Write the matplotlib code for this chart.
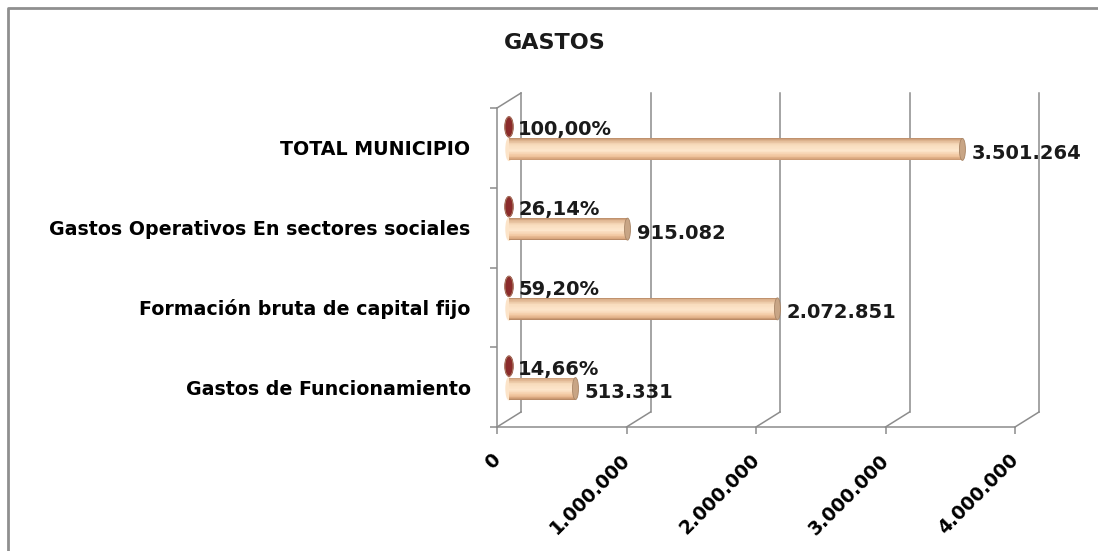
import numpy as np
import matplotlib
matplotlib.use('Agg')
import matplotlib.pyplot as plt
from matplotlib.patches import Ellipse
from matplotlib.lines import Line2D
from matplotlib.colors import to_rgb
from matplotlib.transforms import ScaledTranslation

# data
categorias = ['Gastos de Funcionamiento',
              'Formación bruta de capital fijo',
              'Gastos Operativos En sectores sociales',
              'TOTAL MUNICIPIO']
valores = [513331, 2072851, 915082, 3501264]
porcentajes = [14.66, 59.20, 26.14, 100.00]
etiquetas_valor = ['513.331', '2.072.851', '915.082', '3.501.264']
etiquetas_pct = ['14,66%', '59,20%', '26,14%', '100,00%']
xticks = [0, 1000000, 2000000, 3000000, 4000000]
xtick_labels = ['0', '1.000.000', '2.000.000', '3.000.000', '4.000.000']

W, H = 1098, 551
plt.rcParams['font.family'] = ['DejaVu Sans']

fig = plt.figure(figsize=(W / 100, H / 100), dpi=100)
fig.patch.set_facecolor('white')

ax_px = (497, 108, 1015, 427)   # left, top, right, bottom of front plane in pixels
ax = fig.add_axes([ax_px[0] / W, (H - ax_px[3]) / H,
                   (ax_px[2] - ax_px[0]) / W, (ax_px[3] - ax_px[1]) / H])
ax.set_xlim(0, 4000000)
ax.set_ylim(-0.5, 3.5)
ax.set_facecolor('none')
for s in ax.spines.values():
    s.set_visible(False)

PX = 4000000 / (ax_px[2] - ax_px[0])   # data units per pixel (x)
PY = 4.0 / (ax_px[3] - ax_px[1])       # data units per pixel (y)

grid_c = '#8c8c8c'
dxb, dyb = 24 * PX, 15 * PY   # depth of the back wall
dxm = 12 * PX                 # bars sit mid-depth

# walls / grid
kw = dict(color=grid_c, lw=1.1, clip_on=False, zorder=1)
ax.plot([0, 4000000], [-0.5, -0.5], **kw)
ax.plot([0, 0], [-0.5, 3.5], **kw)
ax.plot([dxb, dxb], [-0.5 + dyb, 3.5 + dyb], **kw)
ax.plot([0, dxb], [3.5, 3.5 + dyb], **kw)
for v in xticks:
    ax.plot([v, v + dxb], [-0.5, -0.5 + dyb], **kw)
    if v > 0:
        ax.plot([v + dxb, v + dxb], [-0.5 + dyb, 3.5 + dyb], **kw)

# ticks
ax.set_xticks(xticks)
ax.set_xticklabels(xtick_labels, rotation=45, ha='right', va='top',
                   rotation_mode='anchor', fontsize=13.5, fontweight='bold')
ax.tick_params(axis='x', length=5, width=1.1, color=grid_c, pad=12)
for lbl in ax.get_xticklabels():
    lbl.set_transform(lbl.get_transform() + ScaledTranslation(-6 / 100, 0, fig.dpi_scale_trans))

ax.set_yticks(range(len(categorias)))
ax.set_yticklabels(categorias, fontsize=13.7, fontweight='bold')
ax.tick_params(axis='y', which='major', length=0, pad=19)
ax.set_yticks([-0.5, 0.5, 1.5, 2.5, 3.5], minor=True)
ax.tick_params(axis='y', which='minor', length=5, width=1.1, color=grid_c)


def shade(stops, t):
    pos = [p for p, _ in stops]
    cols = np.array([to_rgb(c) for _, c in stops])
    return tuple(np.interp(t, pos, cols[:, k]) for k in range(3))


peach = [(0.0, '#b98a66'), (0.08, '#dcb18c'), (0.3, '#f8dcbd'), (0.55, '#fde6cc'),
         (0.8, '#f1c69f'), (0.93, '#d7a57c'), (1.0, '#b0815f')]
red = [(0.0, '#5e1515'), (0.4, '#9b3535'), (0.7, '#8a2a2a'), (1.0, '#5a1212')]


def cylinder(y, value, h, cap_w, stops, cap_col, z):
    n = 30
    ys = np.linspace(y + h / 2, y - h / 2, n + 1)
    ax.add_patch(Ellipse((dxm, y), cap_w, h, color=shade(stops, 0.5), zorder=z, clip_on=False))
    for i in range(n):
        c = shade(stops, (i + 0.5) / n)
        ax.barh((ys[i] + ys[i + 1]) / 2, value, height=h / n * 1.05, left=dxm,
                color=c, lw=0, zorder=z, clip_on=False)
    ax.add_patch(Ellipse((dxm + value, y), cap_w, h, facecolor=cap_col,
                         edgecolor='#a88566', lw=0.6, zorder=z + 0.5, clip_on=False))


for i, (v, p) in enumerate(zip(valores, porcentajes)):
    yp = i - 1.5 * PY
    yr = i + 21 * PY
    cylinder(yp, v, 22 * PY, 6 * PX, peach, '#c8a585', 3)
    cylinder(yr, p, 20 * PY, 8 * PX, red, '#8b2b2b', 3)
    ax.text(dxm + v + 9 * PX, yp - 4 * PY, etiquetas_valor[i], ha='left', va='center',
            fontsize=14, fontweight='bold', color='#1a1a1a', zorder=6)
    ax.text(dxm + 9 * PX, yr - 3 * PY, etiquetas_pct[i], ha='left', va='center',
            fontsize=14, fontweight='bold', color='#1a1a1a', zorder=6)

fig.text(555 / W, 1 - 43 / H, 'GASTOS', ha='center', va='center',
         fontsize=16, fontweight='bold', color='#1a1a1a')

# outer chart border (left and top only visible)
fig.add_artist(Line2D([7.5 / W, 7.5 / W, 1.0], [0.0, 1 - 8 / H, 1 - 8 / H],
                      transform=fig.transFigure, color='#8f8f8f', lw=2.0))

fig.savefig('out.png', dpi=100, facecolor='white')
